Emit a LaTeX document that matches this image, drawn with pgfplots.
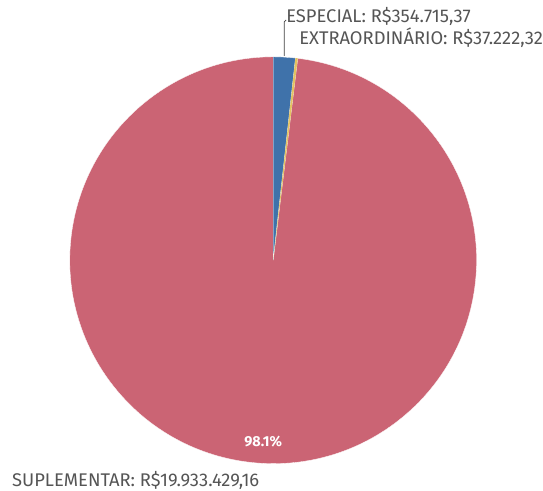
\documentclass[border=0pt]{standalone}
\usepackage{pgfplots}
\usepackage{pgfplotstable}
\usepackage{fontspec}
\setmainfont{Fira Sans}
\pgfplotsset{compat=1.18}
\definecolor{cEsp}{HTML}{3F72AA}
\definecolor{cExt}{HTML}{E3C361}
\definecolor{cSup}{HTML}{CB6474}
\definecolor{txt}{HTML}{555555}
\pgfplotstableread{
label value
ESPECIAL 354715.37
EXTRAORDINARIO 37222.32
SUPLEMENTAR 19933429.16
}\piedata
\pgfplotstablegetelem{0}{value}\of\piedata \edef\vA{\pgfplotsretval}
\pgfplotstablegetelem{1}{value}\of\piedata \edef\vB{\pgfplotsretval}
\pgfplotstablegetelem{2}{value}\of\piedata \edef\vC{\pgfplotsretval}
\edef\tot{\fpeval{\vA+\vB+\vC}}
\edef\aA{\fpeval{90-360*\vA/\tot}}
\edef\aB{\fpeval{\aA-360*\vB/\tot}}
\begin{document}
\begin{tikzpicture}
\begin{axis}[scale only axis, width=543pt, height=492pt,
  xmin=0, xmax=543, ymin=0, ymax=492, hide axis, clip=false]
\path (axis cs:0,0) (axis cs:543,492);
\def\cx{274}\def\cy{231}\def\R{204pt}
\fill[cSup, draw=white, line width=0.3pt] (axis cs:\cx,\cy) -- ++(\aB:\R) arc[start angle=\aB, end angle=-270, radius=\R] -- cycle;
\fill[cEsp, draw=white, line width=0.3pt] (axis cs:\cx,\cy) -- ++(90:\R) arc[start angle=90, end angle=\aA, radius=\R] -- cycle;
\fill[cExt] (axis cs:\cx,\cy) -- ++(\aA:\R) arc[start angle=\aA, end angle=\aB, radius=\R] -- cycle;
\draw[black!75, line width=0.7pt] (axis cs:285,436) -- (axis cs:285,470) -- (axis cs:287,472);
\node[anchor=west, text=txt, font=\fontsize{18.4}{21}\selectfont, inner sep=0pt] at (axis cs:287,475) {ESPECIAL: R\$354.715,37};
\node[anchor=west, text=txt, font=\fontsize{18.4}{21}\selectfont, inner sep=0pt] at (axis cs:300,454) {EXTRAORDINÁRIO: R\$37.222,32};
\node[anchor=west, text=txt, font=\fontsize{18.4}{21}\selectfont, inner sep=0pt] at (axis cs:12,10) {SUPLEMENTAR: R\$19.933.429,16};
\node[text=white, font=\fontsize{14.5}{16}\selectfont\bfseries, inner sep=0pt] at (axis cs:264,49) {98.1\%};
\end{axis}
\end{tikzpicture}
\end{document}
